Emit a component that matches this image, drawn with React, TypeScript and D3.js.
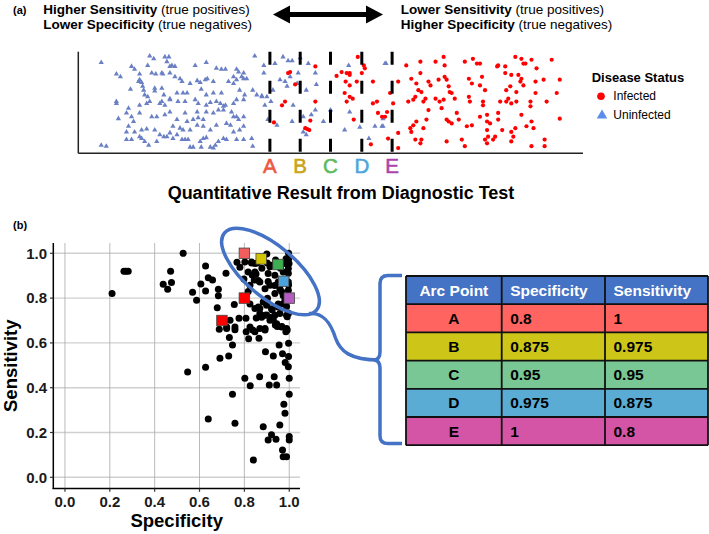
import React from "react";
import * as d3 from "d3";

const FONT = "'Liberation Sans', Arial, Helvetica, sans-serif";

// ---------- Panel (a) data: quantitative result (0-50) and vertical jitter (0-1)
const uninfected: [number, number][] = [
  [2.3,0.92],[7.1,0.99],[7.5,0.96],[8.6,0.98],[9.0,0.98],[8.8,0.93],[9.3,0.89],[9.6,0.88],[9.1,0.88],[5.3,0.88],
  [5.6,0.85],[3.8,0.80],[4.2,0.77],[6.1,0.80],[6.9,0.89],[7.3,0.81],[7.7,0.80],[8.3,0.81],[8.4,0.80],[9.1,0.81],
  [9.6,0.77],[10.1,0.75],[11.6,0.89],[12.7,0.92],[13.7,0.86],[14.2,0.85],[14.6,0.85],[15.7,0.85],[15.9,0.82],[16.4,0.81],
  [16.2,0.77],[15.4,0.77],[17.5,0.99],[18.4,0.89],[18.4,0.81],[19.5,0.91],[20.3,0.98],[20.8,0.94],[21.2,0.94],[22.0,0.97],
  [22.8,0.91],[23.5,0.81],[23.6,0.69],[22.6,0.63],[21.7,0.70],[21.8,0.81],[21.0,0.77],[20.7,0.67],[21.3,0.47],[23.5,0.42],
  [22.3,0.35],[23.1,0.37],[24.3,0.30],[26.4,0.21],[26.8,0.89],[27.9,0.24],[30.5,0.91],
  [6.1,0.74],[6.3,0.71],[6.4,0.67],[6.5,0.63],[6.0,0.72],[5.2,0.64],[6.6,0.58],[6.9,0.56],[7.6,0.65],[7.6,0.62],
  [8.3,0.65],[8.5,0.58],[9.1,0.54],[9.8,0.60],[10.4,0.60],[10.8,0.60],[10.3,0.72],[11.1,0.70],[11.8,0.73],[12.1,0.71],
  [12.6,0.74],[12.8,0.75],[13.4,0.72],[12.2,0.64],[12.7,0.58],[13.4,0.60],[14.2,0.60],[14.9,0.72],[15.4,0.70],[15.7,0.74],
  [16.4,0.75],[16.7,0.75],[16.0,0.63],[16.5,0.58],[16.4,0.53],[17.3,0.63],[17.7,0.58],[18.2,0.57],[18.7,0.56],[15.7,0.53],
  [15.4,0.49],[14.6,0.47],[14.1,0.49],[14.4,0.46],[13.7,0.51],[13.1,0.50],[12.7,0.47],[11.9,0.49],[11.6,0.53],[10.6,0.51],
  [9.9,0.51],[9.1,0.53],[8.3,0.51],[8.1,0.49],[8.6,0.47],[7.1,0.51],[6.8,0.49],[6.1,0.47],[5.0,0.44],[3.8,0.51],
  [3.8,0.49],[4.8,0.39],[5.3,0.35],[6.1,0.39],[7.3,0.35],[7.8,0.35],[8.6,0.37],[9.1,0.40],[9.8,0.32],[10.6,0.39],
  [10.8,0.30],[11.4,0.32],[11.9,0.34],[12.4,0.32],[11.8,0.40],[12.7,0.40],[13.4,0.39],[13.9,0.42],[14.4,0.42],[15.2,0.40],
  [15.4,0.35],[15.7,0.35],[16.4,0.35],[15.9,0.32],[16.4,0.25],[16.0,0.21],[15.4,0.19],[15.1,0.26],[14.7,0.28],[13.7,0.26],
  [13.1,0.21],[12.4,0.25],[11.8,0.26],[11.1,0.21],[10.4,0.21],[10.1,0.23],[9.4,0.25],[9.1,0.18],[8.5,0.14],[8.1,0.16],
  [7.6,0.21],[6.8,0.22],[6.3,0.21],[5.6,0.19],[4.8,0.19],[5.0,0.25],[5.5,0.30],[4.0,0.33],[5.3,0.11],[4.8,0.11],
  [6.3,0.12],[6.1,0.14],[6.6,0.09],[7.0,0.05],[7.8,0.09],[8.8,0.14],[9.4,0.12],[9.8,0.16],[10.3,0.11],[10.6,0.11],
  [10.9,0.11],[11.1,0.03],[11.4,0.03],[12.1,0.09],[12.4,0.12],[12.7,0.13],[12.2,0.03],[13.1,0.03],[13.6,0.05],[13.9,0.09],
  [14.4,0.12],[14.7,0.11],[15.7,0.11],[16.4,0.11],[17.2,0.12],[17.3,0.04],[13.4,0.02],[2.3,0.05],[2.8,0.04],
  [19.1,0.51],[19.3,0.63],[20.0,0.74],[20.5,0.72],[18.2,0.56],[18.5,0.47],[18.8,0.32],[19.7,0.26],[21.2,0.30],[22.3,0.19],
  [22.6,0.16],[25.0,0.42],[26.9,0.40],[28.8,0.12],[29.4,0.25],[30.1,0.25],[30.4,0.91],[30.2,0.25],[30.2,0.33]
];

const infected: [number, number][] = [
  [19.4,0.29],[20.2,0.47],[20.5,0.51],[20.8,0.81],[21.0,0.82],[21.5,0.69],[23.5,0.88],[23.5,0.51],[23.0,0.31],[22.5,0.23],
  [22.7,0.22],[22.9,0.21],[25.6,0.78],[26.1,0.82],[26.6,0.81],[26.9,0.79],[26.9,0.81],[26.5,0.72],[26.9,0.68],[27.6,0.72],
  [27.7,0.98],[28.3,0.89],[28.4,0.86],[28.1,0.81],[26.4,0.60],[26.9,0.56],[27.2,0.54],[26.6,0.51],[27.3,0.32],[29.2,0.72],
  [29.6,0.51],[29.2,0.49],[29.7,0.39],[30.1,0.35],[30.4,0.35],[30.6,0.40],[30.9,0.60],[30.7,0.12],[29.0,0.06],
  [31.2,0.49],[31.7,0.72],[31.7,0.18],[31.7,0.02],[32.5,0.89],[32.7,0.51],[33.0,0.75],[33.2,0.53],[33.4,0.56],[33.5,0.70],
  [33.9,0.93],[33.9,0.81],[33.7,0.63],[34.0,0.61],[34.2,0.51],[34.4,0.54],[33.2,0.26],[32.9,0.23],[33.0,0.19],[33.4,0.11],
  [33.5,0.30],[33.9,0.07],[34.0,0.11],[34.2,0.23],[34.5,0.32],[34.7,0.72],[34.9,0.68],[34.7,0.42],[35.4,0.93],[35.4,0.54],
  [35.7,0.74],[35.8,0.51],[36.0,0.44],[36.2,0.98],[36.3,0.89],[36.2,0.53],[36.3,0.77],[36.5,0.74],[36.7,0.67],[36.8,0.61],
  [37.0,0.60],[36.5,0.32],[36.7,0.30],[36.5,0.09],[37.0,0.28],[37.3,0.54],[37.5,0.39],[37.7,0.32],[38.0,0.11],[38.3,0.93],
  [38.3,0.04],[38.5,0.25],[38.7,0.75],[38.7,0.56],[39.0,0.70],[38.8,0.51],[39.0,0.26],[39.1,0.96],[39.5,0.91],[39.8,0.91],
  [39.8,0.68],[40.0,0.77],[40.1,0.51],[40.1,0.47],[40.3,0.63],[39.8,0.35],[40.5,0.37],[40.5,0.30],[40.5,0.21],[40.3,0.11],
  [40.5,0.07],[40.6,0.14],[40.8,0.28],[41.1,0.11],[41.3,0.14],[41.5,0.88],[41.6,0.89],[41.8,0.51],[41.6,0.39],[41.6,0.32],
  [42.0,0.21],[42.3,0.88],[42.3,0.81],[42.4,0.63],[42.8,0.67],[42.9,0.79],[42.6,0.54],[42.9,0.19],[43.1,0.14],[42.9,0.09],
  [43.3,0.23],[43.4,0.61],[43.6,0.79],[43.8,0.72],[43.9,0.75],[43.9,0.37],[44.1,0.91],[44.1,0.68],[44.4,0.25],[44.8,0.51],
  [44.8,0.46],[44.9,0.30],[45.1,0.23],[44.9,0.04],[45.4,0.86],[45.3,0.72],[45.3,0.60],[46.1,0.74],[46.2,0.11],[46.2,0.04],
  [46.4,0.51],[46.9,0.95],[43.3,0.98],[43.9,0.96],[44.3,0.91],[44.9,0.95],[47.4,0.60],[47.7,0.74],[47.7,0.33],[42.4,0.51],
  [42.9,0.49],[43.4,0.51]
];

const cutoffs = [19, 22, 25, 28.1, 31.1];
const cutoffLabels = ["A", "B", "C", "D", "E"];
const cutoffColors = ["#EC5842", "#C8A418", "#5CBA5E", "#50A6DA", "#AC43AA"];

// ---------- Panel (b) data: (specificity, sensitivity)
const rocPoints: [number, number][] = [
  [0.21,0.82],[0.263,0.92],[0.272,0.92],[0.282,0.92],[0.438,0.862],[0.458,0.84],[0.471,0.92],[0.475,0.87],[0.527,1.0],[0.547,0.47],
  [0.569,0.826],[0.587,0.79],[0.606,0.863],[0.627,0.943],[0.627,0.832],[0.627,0.491],[0.639,0.26],[0.639,0.891],[0.658,0.881],[0.684,0.839],
  [0.684,0.81],[0.679,0.757],[0.688,0.661],[0.691,0.531],[0.718,0.911],[0.721,0.664],[0.733,0.624],[0.73,0.542],[0.747,0.591],[0.747,0.371],
  [0.758,0.241],[0.755,0.771],[0.758,0.659],[0.767,0.96],[0.776,0.71],[0.78,0.938],[0.798,0.885],[0.802,0.442],[0.807,0.71],[0.808,0.65],
  [0.817,0.829],[0.819,0.618],[0.825,0.774],[0.826,0.409],[0.832,0.957],[0.835,0.903],[0.837,0.658],[0.84,0.077],[0.844,0.881],[0.847,0.754],
  [0.853,0.711],[0.852,0.908],[0.857,0.957],[0.862,0.879],[0.865,0.621],[0.868,0.449],[0.869,0.754],[0.877,0.714],[0.878,0.933],[0.884,0.226],
  [0.892,0.658],[0.899,0.725],[0.9,0.997],[0.903,0.799],[0.906,0.874],[0.894,0.561],[0.906,0.167],[0.911,0.412],[0.914,0.94],[0.917,0.713],
  [0.921,0.19],[0.924,0.747],[0.929,0.702],[0.929,0.542],[0.933,0.449],[0.935,0.856],[0.938,0.68],[0.941,0.17],[0.939,0.97],[0.944,0.412],
  [0.947,0.673],[0.951,0.774],[0.955,0.591],[0.958,0.234],[0.961,0.933],[0.966,0.829],[0.967,0.673],[0.97,0.122],[0.97,0.552],[0.973,0.092],
  [0.976,0.326],[0.981,0.286],[0.982,0.513],[0.985,0.65],[0.988,0.092],[0.991,0.658],[0.996,0.494],[0.997,0.973],[0.999,0.955],[0.996,0.911],
  [0.997,0.859],[0.997,0.732],[1.0,0.442],[1.0,0.371],[1.0,0.182],[1.0,0.167],[0.997,0.598],[0.997,0.539],[0.997,1.0],[0.991,0.717],
  [0.981,0.792],[0.988,0.762],
  [0.802,0.961],[0.832,0.961],[0.847,0.954],[0.902,0.957],[0.921,0.947],[0.981,0.954],[0.986,0.976],[0.996,0.932],[0.973,0.917],[0.817,0.917],
  [0.847,0.917],[0.906,0.91],[0.936,0.902],[0.951,0.872],[0.996,0.872],[0.958,0.842],[0.996,0.835],[0.869,0.872],[0.825,0.857],[0.892,0.842],
  [0.914,0.857],[0.936,0.82],[0.973,0.812],[0.996,0.797],[0.884,0.783],[0.899,0.768],[0.921,0.753],[0.951,0.76],[0.973,0.775],[0.862,0.76],
  [0.869,0.731],[0.892,0.723],[0.936,0.723],[0.958,0.731],[0.988,0.723],[0.914,0.701],[0.944,0.686],[0.966,0.671],[0.988,0.664],[0.892,0.664],
  [0.869,0.664],[0.847,0.65],[0.825,0.671],[0.758,0.671],[0.721,0.671],[0.736,0.701]
];

const redSquares: [number, number][] = [[0.8, 0.8], [0.7, 0.7]];

const arcPoints = ["A", "B", "C", "D", "E"];
const arcSpecificity = [0.8, 0.875, 0.95, 0.975, 1];
const arcSensitivity = [1, 0.975, 0.95, 0.875, 0.8];
const arcMarkerColors = ["#F25E5E", "#D2C400", "#3EAF50", "#4BA2DA", "#B55CC0"];
const arcRowColors = ["#FF6461", "#CDC618", "#79C794", "#5AACD5", "#D455A6"];
const tableHeaders = ["Arc Point", "Specificity", "Sensitivity"];
const rocTicks = [0, 0.2, 0.4, 0.6, 0.8, 1.0];

export default function App() {
  // panel (a) scales
  const xA = d3.scaleLinear().domain([0, 50]).range([78, 583]);
  const yA = d3.scaleLinear().domain([0, 1]).range([150, 55]);
  const tri = d3.symbol().type(d3.symbolTriangle).size(12)();
  const triLegend = d3.symbol().type(d3.symbolTriangle).size(48)();

  // panel (b) scales
  const xB = d3.scaleLinear().domain([-0.052, 1.048]).range([53.3, 300]);
  const yB = d3.scaleLinear().domain([-0.05, 1.046]).range([488.5, 243]);
  const sq = 10.5;

  // table geometry
  const colX = [406, 501.7, 605, 708];
  const rowTop = 276;
  const rowH = 28.2;
  const tableBottom = rowTop + rowH * 6;

  const arrowY = 14.5;
  const ax0 = 273, ax1 = 383;
  const arrowPath = `M${ax0},${arrowY} L${ax0 + 17},${arrowY - 9} L${ax0 + 17},${arrowY - 2.6} L${ax1 - 17},${arrowY - 2.6} L${ax1 - 17},${arrowY - 9} L${ax1},${arrowY} L${ax1 - 17},${arrowY + 9} L${ax1 - 17},${arrowY + 2.6} L${ax0 + 17},${arrowY + 2.6} L${ax0 + 17},${arrowY + 9} Z`;

  return (
    <svg width={709} height={534} style={{ position: "absolute", left: 0, top: 0, background: "#fff" }} fontFamily={FONT}>
      <rect x={0} y={0} width={709} height={534} fill="#fff" />
      {/* ---------------- Panel (a) ---------------- */}
      <text x={13} y={13.5} fontSize={11} fontWeight="bold">(a)</text>
      <text x={43.3} y={14} fontSize={13.5}>
        <tspan fontWeight="bold">Higher Sensitivity</tspan> (true positives)
      </text>
      <text x={43.3} y={29.3} fontSize={13.5}>
        <tspan fontWeight="bold">Lower Specificity</tspan> (true negatives)
      </text>
      <text x={400.7} y={14} fontSize={13.5}>
        <tspan fontWeight="bold">Lower Sensitivity</tspan> (true positives)
      </text>
      <text x={400.7} y={29.3} fontSize={13.5}>
        <tspan fontWeight="bold">Higher Specificity</tspan> (true negatives)
      </text>
      <path d={arrowPath} fill="#000" />

      {uninfected.map((d, i) => (
        <path key={"u" + i} d={tri} transform={`translate(${xA(d[0])},${yA(d[1])})`} fill="#6B80C4" />
      ))}
      {infected.map((d, i) => (
        <circle key={"i" + i} cx={xA(d[0])} cy={yA(d[1])} r={2.1} fill="#FF0000" />
      ))}

      <line x1={78.3} y1={51.7} x2={78.3} y2={153.3} stroke="#222" strokeWidth={1.5} />
      <line x1={78.3} y1={153.3} x2={583} y2={153.3} stroke="#222" strokeWidth={1.5} />

      {cutoffs.map((c, i) => (
        <g key={"c" + i}>
          <line x1={xA(c)} x2={xA(c)} y1={51.7} y2={153} stroke="#000" strokeWidth={3} strokeDasharray="13,16" />
          <text x={xA(c)} y={173} fontSize={20.5} textAnchor="middle" fill={cutoffColors[i]}
            stroke={cutoffColors[i]} strokeWidth={0.6}>{cutoffLabels[i]}</text>
        </g>
      ))}
      <text x={341} y={199} fontSize={18} fontWeight="bold" textAnchor="middle">Quantitative Result from Diagnostic Test</text>

      <text x={591.7} y={81.7} fontSize={13} fontWeight="bold">Disease Status</text>
      <circle cx={601} cy={96.3} r={3.8} fill="#FF0000" />
      <text x={613.3} y={100.2} fontSize={12}>Infected</text>
      <path d={triLegend} transform="translate(602,115.5)" fill="#5C8DE8" />
      <text x={613.3} y={119.2} fontSize={12}>Uninfected</text>

      {/* ---------------- Panel (b) ---------------- */}
      <text x={13} y={229} fontSize={11} fontWeight="bold">(b)</text>
      {rocTicks.map((t, i) => (
        <line key={"hg" + i} x1={53.3} x2={300} y1={yB(t)} y2={yB(t)} stroke="#d0d0d0" strokeWidth={1.4} />
      ))}
      {rocTicks.map((t, i) => (
        <line key={"vg" + i} x1={xB(t)} x2={xB(t)} y1={243} y2={488.5} stroke="#a8a8a8" strokeWidth={0.8} />
      ))}
      <line x1={53.3} y1={243} x2={53.3} y2={489} stroke="#000" strokeWidth={1.5} />
      <line x1={52.6} y1={488.5} x2={300} y2={488.5} stroke="#000" strokeWidth={1.5} />
      {rocTicks.map((t, i) => (
        <g key={"tk" + i}>
          <line x1={50} x2={53.3} y1={yB(t)} y2={yB(t)} stroke="#333" strokeWidth={1.2} />
          <text x={47} y={yB(t) + 5.3} fontSize={15} fontWeight="bold" textAnchor="end" fill="#1a1a1a">{t.toFixed(1)}</text>
          <line x1={xB(t)} x2={xB(t)} y1={488.5} y2={491.8} stroke="#333" strokeWidth={1.2} />
          <text x={xB(t)} y={506.5} fontSize={15} fontWeight="bold" textAnchor="middle" fill="#1a1a1a">{t.toFixed(1)}</text>
        </g>
      ))}
      <text x={176.7} y={527} fontSize={18.5} fontWeight="bold" textAnchor="middle">Specificity</text>
      <text transform="translate(16.8,365.7) rotate(-90)" fontSize={18.5} fontWeight="bold" textAnchor="middle">Sensitivity</text>

      {rocPoints.map((d, i) => (
        <circle key={"r" + i} cx={xB(d[0])} cy={yB(d[1])} r={3.5} fill="#000" />
      ))}
      {redSquares.map((d, i) => (
        <rect key={"rs" + i} x={xB(d[0]) - sq / 2} y={yB(d[1]) - sq / 2} width={sq} height={sq} fill="#FF0000" stroke="#444" strokeWidth={0.8} />
      ))}
      {arcPoints.map((p, i) => (
        <rect key={"as" + i} x={xB(arcSpecificity[i]) - sq / 2} y={yB(arcSensitivity[i]) - sq / 2} width={sq} height={sq}
          fill={arcMarkerColors[i]} stroke="#444" strokeWidth={0.8} />
      ))}

      <ellipse cx={270.5} cy={271.5} rx={60} ry={25.5} transform="rotate(40,270.5,271.5)" fill="none" stroke="#4472C4" strokeWidth={3.5} />
      <path d="M309,313.5 C324,312 331,324 335.5,338 C340,351 350,360 379,360" fill="none" stroke="#4472C4" strokeWidth={3.5} />
      <path d="M402,275.5 H388 Q380,275.5 380,283.5 V352 Q380,359.5 374,360 Q380,360.5 380,368 V436 Q380,443.5 388,443.5 H402"
        fill="none" stroke="#4472C4" strokeWidth={3.5} />

      {/* table */}
      <rect x={colX[0]} y={rowTop} width={colX[3] - colX[0]} height={rowH} fill="#4472C4" />
      {arcPoints.map((p, i) => (
        <rect key={"row" + i} x={colX[0]} y={rowTop + rowH * (i + 1)} width={colX[3] - colX[0]} height={rowH} fill={arcRowColors[i]} />
      ))}
      {d3.range(7).map((i) => (
        <line key={"hl" + i} x1={colX[0]} x2={colX[3]} y1={rowTop + rowH * i} y2={rowTop + rowH * i} stroke="#111" strokeWidth={1.8} />
      ))}
      {colX.map((x, i) => (
        <line key={"vl" + i} x1={x} x2={x} y1={rowTop} y2={tableBottom} stroke="#111" strokeWidth={1.8} />
      ))}
      <text x={(colX[0] + colX[1]) / 2} y={rowTop + rowH / 2 + 5.4} fontSize={15.5} fontWeight="bold" fill="#fff" textAnchor="middle">{tableHeaders[0]}</text>
      <text x={colX[1] + 8.5} y={rowTop + rowH / 2 + 5.4} fontSize={15.5} fontWeight="bold" fill="#fff">{tableHeaders[1]}</text>
      <text x={colX[2] + 8.5} y={rowTop + rowH / 2 + 5.4} fontSize={15.5} fontWeight="bold" fill="#fff">{tableHeaders[2]}</text>
      {arcPoints.map((p, i) => {
        const y = rowTop + rowH * (i + 1) + rowH / 2 + 5.4;
        return (
          <g key={"tx" + i} fontSize={15.5} fontWeight="bold" fill="#000">
            <text x={(colX[0] + colX[1]) / 2} y={y} textAnchor="middle">{p}</text>
            <text x={colX[1] + 8.5} y={y}>{String(arcSpecificity[i])}</text>
            <text x={colX[2] + 8.5} y={y}>{String(arcSensitivity[i])}</text>
          </g>
        );
      })}
    </svg>
  );
}
